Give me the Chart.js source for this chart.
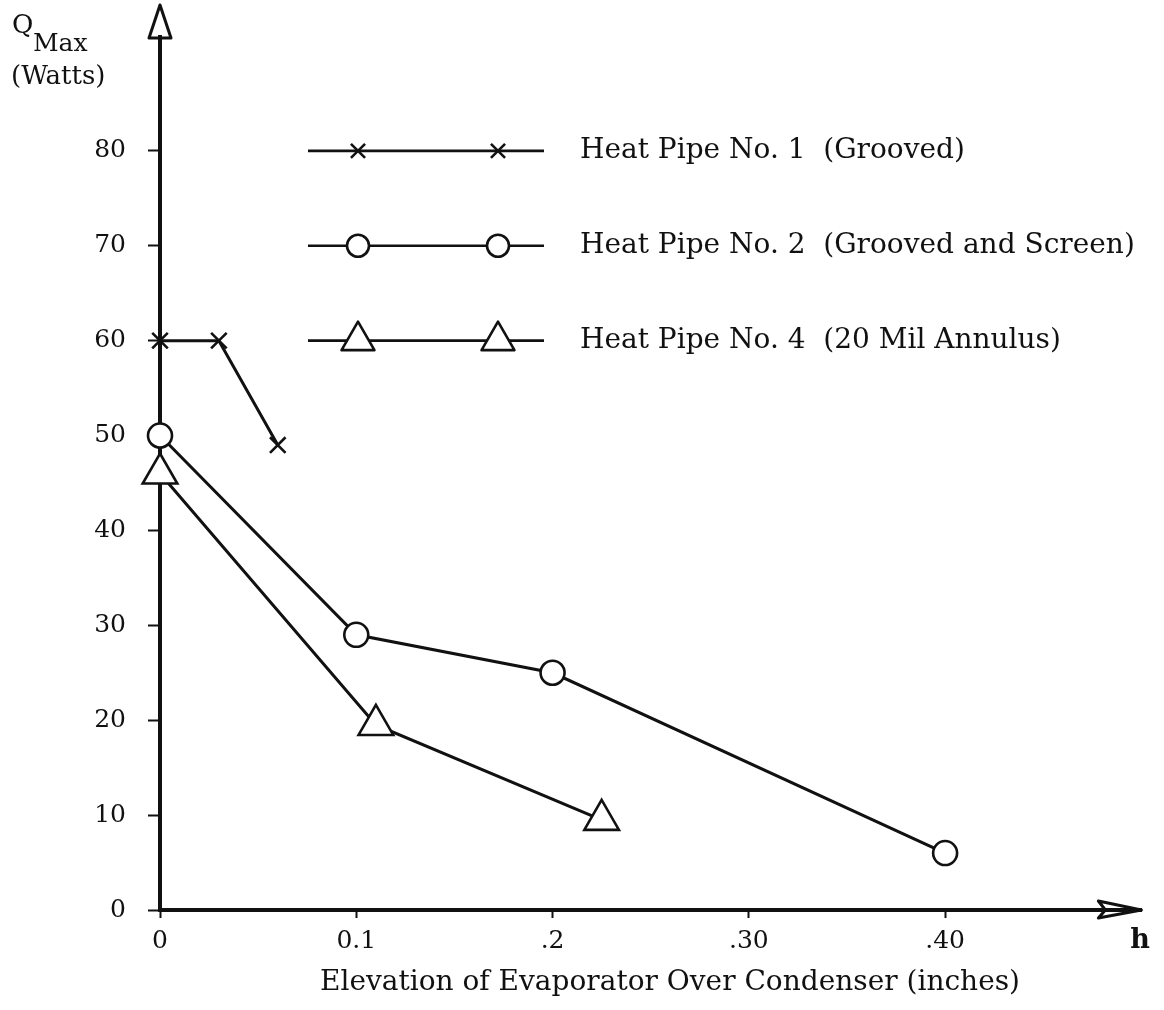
<!DOCTYPE html>
<html>
<head>
<meta charset="utf-8">
<script src="https://cdn.jsdelivr.net/npm/chart.js@4.4.0/dist/chart.umd.min.js"></script>
<style>
    html, body { margin: 0; padding: 0; background: #fff; }
    #wrap { width: 1164px; height: 1010px; }
</style>
</head>
<body>
<div id="wrap"><canvas id="qmaxChart" width="1164" height="1010"></canvas></div>
<script>
// Heat pipe No. 1 (grooved)
const pipe1H = [0, 0.03, 0.06];
const pipe1Q = [60, 60, 49];
// Heat pipe No. 2 (grooved and screen)
const pipe2H = [0, 0.1, 0.2, 0.4];
const pipe2Q = [50, 29, 25, 6];
// Heat pipe No. 4 (20 mil annulus)
const pipe4H = [0, 0.11, 0.225];
const pipe4Q = [46, 19.5, 9.5];

const seriesNames = [
    "Heat Pipe No. 1  (Grooved)",
    "Heat Pipe No. 2  (Grooved and Screen)",
    "Heat Pipe No. 4  (20 Mil Annulus)"
];
const xTickValues = [0, 0.1, 0.2, 0.3, 0.4];
const xTickLabels = ["0", "0.1", ".2", ".30", ".40"];
const yTickValues = [0, 10, 20, 30, 40, 50, 60, 70, 80];
const yTickLabels = ["0", "10", "20", "30", "40", "50", "60", "70", "80"];

const FONT = '"DejaVu Serif", "Liberation Serif", serif';
const INK = "#111";

function toPoints(xs, ys) {
    return xs.map((x, i) => ({ x: x, y: ys[i] }));
}

function lineSet(label, data, style, radius) {
    return {
        label: label,
        data: data,
        showLine: true,
        borderColor: INK,
        borderWidth: 3,
        pointStyle: style,
        pointRadius: radius,
        pointBorderWidth: 2.6,
        pointBorderColor: INK,
        pointBackgroundColor: "#fff",
        clip: false
    };
}

// Arrowheads, axis captions and the hand-drawn style legend
const decorPlugin = {
    id: "decor",
    afterDraw(chart) {
        const ctx = chart.ctx;
        const area = chart.chartArea;
        const yScale = chart.scales.y;
        ctx.save();
        ctx.strokeStyle = INK;
        ctx.fillStyle = INK;
        ctx.lineJoin = "round";

        // y-axis arrow
        ctx.lineWidth = 3;
        ctx.beginPath();
        ctx.moveTo(area.left, 5);
        ctx.lineTo(area.left - 11, 38);
        ctx.lineTo(area.left + 11, 38);
        ctx.closePath();
        ctx.stroke();

        // x-axis arrow
        ctx.beginPath();
        ctx.moveTo(area.right, area.bottom);
        ctx.lineTo(area.right - 43, area.bottom - 9);
        ctx.lineTo(area.right - 36, area.bottom);
        ctx.lineTo(area.right - 43, area.bottom + 8);
        ctx.closePath();
        ctx.stroke();

        // y caption
        ctx.textBaseline = "alphabetic";
        ctx.textAlign = "left";
        ctx.font = "26px " + FONT;
        ctx.fillText("Q", 12, 33);
        ctx.font = "25px " + FONT;
        ctx.fillText("Max", 33, 51);
        ctx.font = "26px " + FONT;
        ctx.fillText("(Watts)", 11, 84);

        // x caption
        ctx.textAlign = "center";
        ctx.textBaseline = "middle";
        ctx.font = "28px " + FONT;
        ctx.fillText("Elevation of Evaporator Over Condenser (inches)", 670, 983);
        ctx.font = "bold 27px " + FONT;
        ctx.fillText("h", 1140, 941);

        // legend
        const rowLevels = [80, 70, 60];
        chart.data.datasets.forEach((ds, i) => {
            const y = yScale.getPixelForValue(rowLevels[i]);
            ctx.lineWidth = 2.6;
            ctx.beginPath();
            ctx.moveTo(308, y);
            ctx.lineTo(544, y);
            ctx.stroke();
            ctx.fillStyle = "#fff";
            ctx.strokeStyle = INK;
            [358, 498].forEach(px => {
                Chart.helpers.drawPoint(ctx, {
                    pointStyle: ds.pointStyle,
                    radius: ds.pointRadius - 1,
                    borderWidth: ds.pointBorderWidth,
                    rotation: 0
                }, px, y);
            });
            ctx.fillStyle = INK;
            ctx.textAlign = "left";
            ctx.font = "28px " + FONT;
            ctx.fillText(ds.label, 580, y);
        });
        ctx.restore();
    }
};

const ctx = document.getElementById("qmaxChart").getContext("2d");

new Chart(ctx, {
    type: "scatter",
    data: {
        datasets: [
            lineSet(seriesNames[0], toPoints(pipe1H, pipe1Q), "crossRot", 11),
            lineSet(seriesNames[1], toPoints(pipe2H, pipe2Q), "circle", 12),
            lineSet(seriesNames[2], toPoints(pipe4H, pipe4Q), "triangle", 20)
        ]
    },
    options: {
        responsive: false,
        animation: false,
        layout: { padding: { top: 8, right: 16, left: 0, bottom: 0 } },
        plugins: {
            legend: { display: false },
            tooltip: { enabled: false }
        },
        scales: {
            x: {
                type: "linear",
                min: 0,
                max: 0.5,
                afterBuildTicks: scale => { scale.ticks = xTickValues.map(v => ({ value: v })); },
                afterFit: scale => { scale.height = 100; },
                ticks: {
                    callback: (value, index) => xTickLabels[index],
                    color: INK,
                    font: { family: FONT, size: 25 },
                    padding: 8,
                    maxRotation: 0,
                    autoSkip: false
                },
                grid: { drawOnChartArea: false, drawTicks: true, tickLength: 8, tickWidth: 2, color: INK },
                border: { display: true, width: 4, color: INK }
            },
            y: {
                type: "linear",
                min: 0,
                max: 92,
                afterBuildTicks: scale => { scale.ticks = yTickValues.map(v => ({ value: v })); },
                afterFit: scale => { scale.width = 160; },
                ticks: {
                    callback: (value, index) => yTickLabels[index],
                    color: INK,
                    font: { family: FONT, size: 25 },
                    padding: 22
                },
                grid: { drawOnChartArea: false, drawTicks: true, tickLength: 12, tickWidth: 2, color: INK },
                border: { display: true, width: 4, color: INK }
            }
        }
    },
    plugins: [decorPlugin]
});
</script>
</body>
</html>
